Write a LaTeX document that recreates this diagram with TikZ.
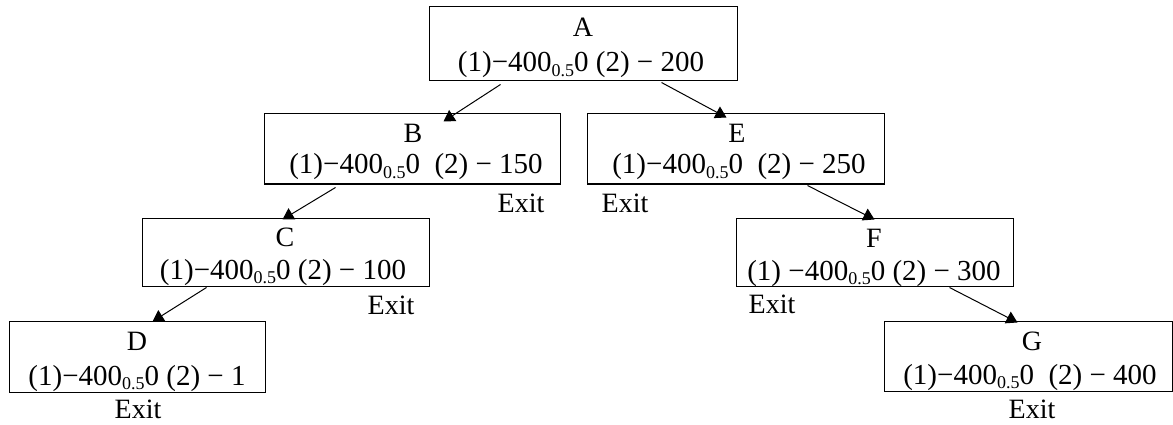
\documentclass[tikz,border=0pt]{standalone}
\usepackage{fontspec}
\setmainfont{Liberation Serif}
\usetikzlibrary{arrows.meta}
\newcommand{\sbv}{\raisebox{-0.32ex}{\fontsize{18}{18}\selectfont 0.5}}
\tikzset{
  box/.style={draw, line width=1pt, inner sep=0pt},
  lbl/.style={inner sep=0pt, anchor=base, font=\fontsize{28}{32}\selectfont},
  val/.style={inner sep=0pt, anchor=base, font=\fontsize{29}{32}\selectfont},
  arr/.style={line width=1pt, -{Triangle[width=13pt,length=11pt]}}
}
\begin{document}
\begin{tikzpicture}[x=1pt,y=-1pt]
\useasboundingbox (0,0) rectangle (1173,425);
% boxes
\node[box, minimum width=308pt, minimum height=74pt] (A) at (583,44) {};
\node[box, minimum width=296pt, minimum height=70pt] (B) at (412,149) {};
\node[box, minimum width=297pt, minimum height=70pt] (E) at (735.5,149) {};
\node[box, minimum width=287pt, minimum height=68pt] (C) at (285.5,252) {};
\node[box, minimum width=256pt, minimum height=71pt] (D) at (137,356.5) {};
\node[box, minimum width=277pt, minimum height=68pt] (F) at (874.5,252) {};
\node[box, minimum width=288pt, minimum height=70pt] (G) at (1028,356) {};
% letters
\node[lbl] (At) at (583,37) {A};
\node[lbl] (Bt) at (413,143) {B};
\node[lbl] (Et) at (737,143) {E};
\node[lbl] (Ct) at (285,246) {C};
\node[lbl] (Dt) at (137,350) {D};
\node[lbl] (Ft) at (874,247) {F};
\node[lbl] (Gt) at (1032,350) {G};
% values
\node[val] (Av) at (581,72) {(1)−400\sbv0 (2) − 200};
\node[val] (Bv) at (416,174) {(1)−400\sbv0\ \ (2) − 150};
\node[val] (Ev) at (739,174) {(1)−400\sbv0\ \ (2) − 250};
\node[val] (Cv) at (283,279) {(1)−400\sbv0 (2) − 100};
\node[val] (Dv) at (137,385) {(1)−400\sbv0 (2) − 1};
\node[val] (Fv) at (874,280) {(1) −400\sbv0 (2) − 300};
\node[val] (Gv) at (1030,384) {(1)−400\sbv0\ \ (2) − 400};
% exits
\node[lbl] (Bx) at (521,212) {Exit};
\node[lbl] (Ex) at (625,212) {Exit};
\node[lbl] (Cx) at (391,314) {Exit};
\node[lbl] (Fx) at (772,313) {Exit};
\node[lbl] (Dx) at (138,418) {Exit};
\node[lbl] (Gx) at (1032,418) {Exit};
% arrows
\draw[arr] ([xshift=72pt,yshift=-3pt]A.south west) -- ([xshift=180pt,yshift=-8pt]B.north west);
\draw[arr] ([xshift=233pt,yshift=-1pt]A.south west) -- ([xshift=140pt,yshift=-4pt]E.north west);
\draw[arr] ([xshift=72pt,yshift=-3pt]B.south west) -- ([xshift=141pt,yshift=-2pt]C.north west);
\draw[arr] ([xshift=65pt,yshift=-1pt]C.south west) -- ([xshift=144pt,yshift=-1pt]D.north west);
\draw[arr] ([xshift=221pt,yshift=-1pt]E.south west) -- ([xshift=139pt,yshift=-2pt]F.north west);
\draw[arr] ([xshift=214pt,yshift=-1pt]F.south west) -- ([xshift=134pt,yshift=-2pt]G.north west);
\end{tikzpicture}
\end{document}
